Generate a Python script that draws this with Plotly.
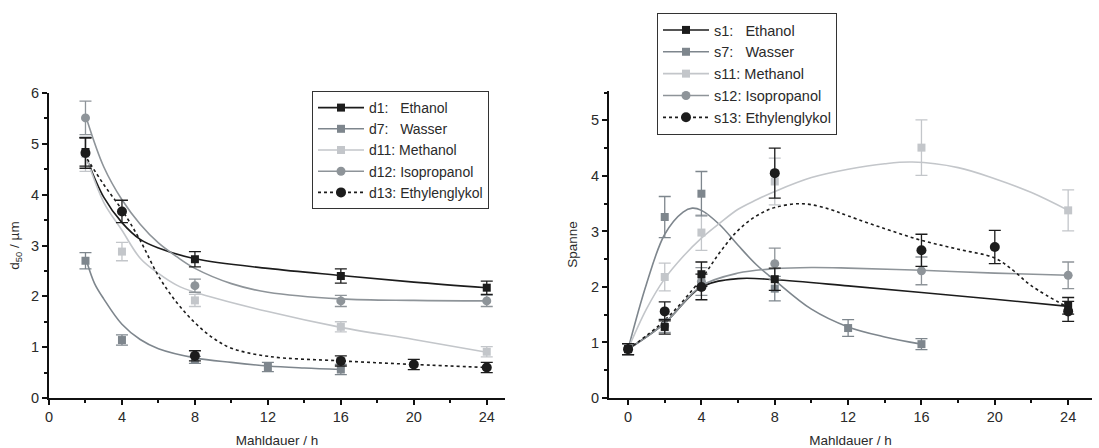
import plotly.graph_objects as go

# ---------------- Left chart: d50 ----------------
d_names = ["d1:\u00a0\u00a0\u00a0Ethanol", "d7:\u00a0\u00a0\u00a0Wasser", "d11: Methanol", "d12: Isopropanol", "d13: Ethylenglykol"]

d1_x = [2, 8, 16, 24]
d1_y = [4.84, 2.73, 2.40, 2.17]
d1_e = [0.28, 0.15, 0.14, 0.13]

d7_x = [2, 4, 8, 12, 16]
d7_y = [2.70, 1.14, 0.75, 0.61, 0.56]
d7_e = [0.16, 0.10, 0.07, 0.09, 0.10]

d11_x = [2, 4, 8, 16, 24]
d11_y = [4.80, 2.88, 1.92, 1.40, 0.91]
d11_e = [0.34, 0.18, 0.12, 0.10, 0.10]

d12_x = [2, 8, 16, 24]
d12_y = [5.51, 2.21, 1.91, 1.91]
d12_e = [0.33, 0.13, 0.11, 0.11]

d13_x = [2, 4, 8, 16, 20, 24]
d13_y = [4.82, 3.67, 0.83, 0.73, 0.66, 0.60]
d13_e = [0.30, 0.22, 0.10, 0.10, 0.10, 0.10]

# fitted curves
d1_fx = [2.1, 3, 4, 5, 6, 8, 12, 16, 20, 24]
d1_fy = [4.68, 3.95, 3.45, 3.12, 2.95, 2.74, 2.55, 2.41, 2.28, 2.17]
d7_fx = [2.1, 2.5, 3, 4, 5, 6, 8, 10, 12, 14, 16]
d7_fy = [2.65, 2.25, 1.95, 1.45, 1.15, 0.97, 0.79, 0.70, 0.63, 0.59, 0.56]
d11_fx = [2.1, 3, 4, 5, 6, 7, 8, 12, 16, 20, 24]
d11_fy = [4.68, 3.85, 3.30, 2.75, 2.45, 2.22, 2.08, 1.70, 1.39, 1.15, 0.90]
d12_fx = [2.1, 3, 4, 5, 6, 7, 8, 10, 12, 16, 20, 24]
d12_fy = [5.45, 4.55, 3.90, 3.42, 3.05, 2.78, 2.55, 2.25, 2.08, 1.95, 1.92, 1.91]
d13_fx = [2.1, 3, 4, 5, 6, 7, 8, 9, 10, 12, 16, 20, 24]
d13_fy = [4.70, 4.20, 3.70, 3.10, 2.40, 1.88, 1.48, 1.18, 0.98, 0.82, 0.73, 0.66, 0.60]

# ---------------- Right chart: Spanne ----------------
s_names = ["s1:\u00a0\u00a0\u00a0Ethanol", "s7:\u00a0\u00a0\u00a0Wasser", "s11: Methanol", "s12: Isopropanol", "s13: Ethylenglykol"]

s1_x = [0, 2, 4, 8, 24]
s1_y = [0.88, 1.28, 2.23, 2.14, 1.66]
s1_e = [0.10, 0.13, 0.22, 0.20, 0.15]

s7_x = [0, 2, 4, 8, 12, 16]
s7_y = [0.88, 3.26, 3.68, 1.97, 1.26, 0.97]
s7_e = [0.10, 0.37, 0.40, 0.22, 0.15, 0.10]

s11_x = [0, 2, 4, 8, 16, 24]
s11_y = [0.88, 2.18, 2.98, 3.90, 4.51, 3.38]
s11_e = [0.10, 0.25, 0.32, 0.42, 0.50, 0.37]

s12_x = [0, 2, 4, 8, 16, 24]
s12_y = [0.88, 1.30, 2.10, 2.42, 2.29, 2.21]
s12_e = [0.10, 0.12, 0.25, 0.28, 0.25, 0.24]

s13_x = [0, 2, 4, 8, 16, 20, 24]
s13_y = [0.88, 1.56, 2.00, 4.05, 2.66, 2.72, 1.56]
s13_e = [0.10, 0.17, 0.23, 0.45, 0.29, 0.30, 0.18]

s1_fx = [0, 2, 4, 6, 8, 12, 16, 20, 24]
s1_fy = [0.88, 1.35, 2.00, 2.15, 2.13, 2.02, 1.90, 1.78, 1.65]
s7_fx = [0, 1, 2, 3, 3.5, 4, 5, 6, 7, 8, 10, 12, 14, 16]
s7_fy = [0.88, 2.05, 2.95, 3.35, 3.42, 3.38, 3.12, 2.75, 2.40, 2.12, 1.60, 1.28, 1.10, 0.97]
s11_fx = [0, 1, 2, 3, 4, 5, 6, 7, 8, 10, 12, 14, 15.5, 18, 20, 22, 24]
s11_fy = [0.88, 1.60, 2.15, 2.55, 2.88, 3.15, 3.40, 3.57, 3.72, 3.97, 4.12, 4.22, 4.25, 4.15, 3.95, 3.70, 3.38]
s12_fx = [0, 2, 4, 6, 8, 10, 12, 16, 20, 24]
s12_fy = [0.88, 1.35, 2.02, 2.25, 2.33, 2.35, 2.34, 2.30, 2.25, 2.21]
s13_fx = [0, 2, 4, 5, 6, 7, 8, 9.5, 11, 12, 14, 16, 18, 20, 21, 22, 24]
s13_fy = [0.88, 1.40, 2.15, 2.62, 3.02, 3.28, 3.43, 3.50, 3.40, 3.28, 3.05, 2.84, 2.68, 2.52, 2.30, 2.02, 1.63]

C_ETH = "#1c1c1c"
C_WAS = "#7e868d"
C_MET = "#c3c6ca"
C_ISO = "#8e9499"
C_GLY = "#1c1c1c"

styles = [
    (C_ETH, "square", "solid", 8),
    (C_WAS, "square", "solid", 8),
    (C_MET, "square", "solid", 8),
    (C_ISO, "circle", "solid", 9),
    (C_GLY, "circle", "dot", 10),
]

fig = go.Figure()

def add_set(xa, ya, names, pts, fits, legend):
    # curves
    for (fx, fy), (col, sym, dash, ms) in zip(fits, styles):
        fig.add_trace(go.Scatter(x=fx, y=fy, mode="lines", xaxis=xa, yaxis=ya,
                                 line=dict(color=col, width=1.6, dash=dash, shape="spline", smoothing=1.0),
                                 showlegend=False, hoverinfo="skip"))
    # markers with error bars; draw order: Methanol, Wasser, Isopropanol, Ethanol, Glykol
    for i in [2, 1, 3, 0, 4]:
        px, py, pe = pts[i]
        col, sym, dash, ms = styles[i]
        fig.add_trace(go.Scatter(x=px, y=py, mode="markers", xaxis=xa, yaxis=ya,
                                 marker=dict(color=col, symbol=sym, size=ms, line=dict(width=0)),
                                 error_y=dict(type="data", array=pe, visible=True, color=col,
                                              thickness=1.3, width=6),
                                 showlegend=False))
    # legend entries
    for i in range(5):
        col, sym, dash, ms = styles[i]
        fig.add_trace(go.Scatter(x=[None], y=[None], mode="lines+markers", xaxis=xa, yaxis=ya,
                                 name=names[i], legend=legend,
                                 line=dict(color=col, width=1.6, dash=dash),
                                 marker=dict(color=col, symbol=sym, size=ms)))

add_set("x", "y", d_names,
        [(d1_x, d1_y, d1_e), (d7_x, d7_y, d7_e), (d11_x, d11_y, d11_e), (d12_x, d12_y, d12_e), (d13_x, d13_y, d13_e)],
        [(d1_fx, d1_fy), (d7_fx, d7_fy), (d11_fx, d11_fy), (d12_fx, d12_fy), (d13_fx, d13_fy)],
        "legend")
add_set("x2", "y2", s_names,
        [(s1_x, s1_y, s1_e), (s7_x, s7_y, s7_e), (s11_x, s11_y, s11_e), (s12_x, s12_y, s12_e), (s13_x, s13_y, s13_e)],
        [(s1_fx, s1_fy), (s7_fx, s7_fy), (s11_fx, s11_fy), (s12_fx, s12_fy), (s13_fx, s13_fy)],
        "legend2")

W, H = 1099, 448
FONT = "Liberation Sans, Arial, sans-serif"
TC = "#2a2a2a"
ax_common = dict(showline=True, linecolor="#111111", linewidth=2, ticks="outside", ticklen=5,
                 tickwidth=2, tickcolor="#111111", showgrid=False, zeroline=False, automargin=False,
                 tickfont=dict(size=14.5, color=TC, family=FONT),
                 title_font=dict(size=13.5, color=TC, family=FONT))
minor = dict(ticks="outside", ticklen=3, tickwidth=2, tickcolor="#111111")

fig.update_layout(
    template="none",
    width=W, height=H, margin=dict(l=0, r=0, t=0, b=0, autoexpand=False),
    paper_bgcolor="white", plot_bgcolor="white",
    font=dict(family=FONT, color=TC),
    xaxis=dict(ax_common, domain=[49 / W, 505 / W], range=[0, 25], dtick=4, tick0=0,
               minor=dict(minor, dtick=2),
               title=dict(text="Mahldauer / h", standoff=14), anchor="y"),
    yaxis=dict(ax_common, domain=[(H - 398) / H, (H - 93) / H], range=[0, 6], dtick=1,
               minor=dict(minor, dtick=0.5),
               title=dict(text="d<sub>50</sub> / µm", standoff=8), anchor="x"),
    xaxis2=dict(ax_common, domain=[609 / W, 1092 / W], range=[-1.04, 25.3], dtick=4, tick0=0,
                minor=dict(minor, dtick=2),
                title=dict(text="Mahldauer / h", standoff=14), anchor="y2"),
    yaxis2=dict(ax_common, domain=[(H - 398) / H, (H - 91) / H], range=[0, 5.53], dtick=1,
                minor=dict(minor, dtick=0.5),
                title=dict(text="Spanne", standoff=10), anchor="x2"),
    legend=dict(x=312 / W, y=(H - 91) / H, xanchor="left", yanchor="top",
                bordercolor="#333333", borderwidth=1, bgcolor="white", itemwidth=46,
                font=dict(size=14, family=FONT, color=TC), tracegroupgap=0),
    legend2=dict(x=657 / W, y=(H - 13) / H, xanchor="left", yanchor="top",
                 bordercolor="#333333", borderwidth=1, bgcolor="white", itemwidth=46,
                 font=dict(size=14.5, family=FONT, color=TC), tracegroupgap=0),
)

fig.write_html("out.html", config={"displayModeBar": False},
               post_script="document.body.style.margin='0px';document.body.style.overflow='hidden';")
